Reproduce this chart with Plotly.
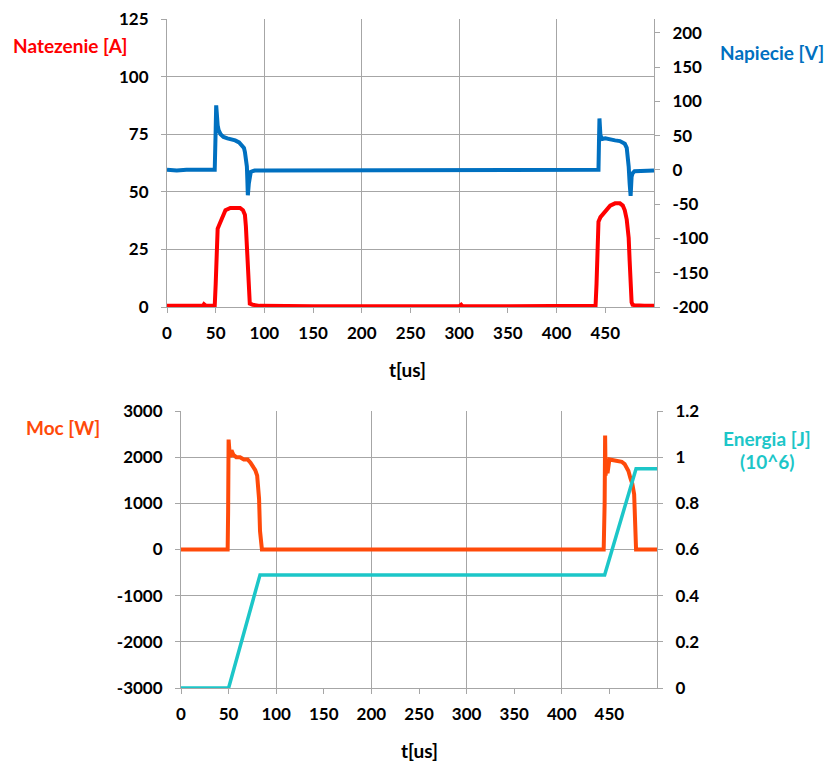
import plotly.graph_objects as go

# ---------------- data ----------------
t_current = [0, 20, 37, 38, 40, 46, 48, 49, 50, 51, 52, 54, 56, 58, 60, 65, 70, 75, 78, 80, 81, 82, 83, 84, 85, 88, 95,
             150, 200, 250, 300, 302, 303, 305, 350, 400, 440, 441, 442, 443, 445, 447, 450, 455, 460, 465, 468,
             470, 472, 474, 475, 476, 477, 478, 480, 490, 500]
current = [0.5, 0.5, 0.5, 1.2, 0.5, 0.5, 0.5, 0.6, 10, 28, 34, 36, 38, 40, 42, 43, 43, 43, 42, 40, 35, 25, 12, 3, 1.5, 1, 0.5,
           0.3, 0.3, 0.3, 0.3, 1, 0.5, 0.3, 0.3, 0.3, 0.5, 10, 30, 37, 39, 40, 42, 44, 45, 45, 44,
           42, 38, 30, 20, 8, 2, 1, 0.8, 0.5, 0.5]

t_voltage = [0, 10, 20, 30, 40, 49, 50, 50.5, 51, 52, 53, 55, 58, 62, 66, 70, 74, 77, 79, 80, 81, 82, 82.5, 83, 84, 85,
             86, 88, 90, 100, 150, 200, 250, 300, 350, 370, 400, 440, 443, 443.5, 444, 445, 447, 450, 455, 460, 465,
             470, 472, 473, 474, 475, 476, 477, 478, 480, 490, 500]
voltage = [0, -1, 0, 0, 0, 0, 60, 94, 85, 65, 58, 52, 48, 46, 45, 43, 40, 36, 32, 26, 18, 5, -15, -37, -20, -5,
           -3, -2, -1, -1, -1, 0, 0, 0, -1, -1, -1, -1, 0, 40, 75, 50, 45, 46, 44, 43, 42,
           38, 32, 20, 5, -20, -38, -10, -5, -2, -1, -1]

t_power = [0, 48, 49, 49.5, 50, 51, 52, 53, 55, 58, 62, 66, 70, 73, 76, 78, 80, 81, 82, 83, 84, 85, 100, 200, 300, 400,
           444, 445, 445.5, 446, 447, 448, 450, 455, 460, 463, 466, 468, 470, 472, 474, 476, 477, 478, 480, 500]
power = [0, 0, 0, 800, 2380, 2100, 2000, 2150, 2050, 2000, 2000, 1950, 1950, 1880, 1800, 1720, 1600, 1350, 1100, 400, 0, 0,
         0, 0, 0, 0, 0, 1000, 2470, 1600, 1900, 1650, 1950, 1930, 1900, 1900, 1850, 1780, 1700, 1550, 1430, 1200,
         500, 0, 0, 0]

t_energy = [0, 50, 83, 445, 478, 500]
energy = [0, 0, 0.49, 0.49, 0.95, 0.95]

x_ticks = [0, 50, 100, 150, 200, 250, 300, 350, 400, 450]
x_grid = [100, 200, 300, 400, 500]
i_ticks = [0, 25, 50, 75, 100, 125]
v_ticks = [-200, -150, -100, -50, 0, 50, 100, 150, 200]
v_labels = ["-200", "-150", "-100", "-50", "0", "50", "100", "150", "200"]
p_ticks = [-3000, -2000, -1000, 0, 1000, 2000, 3000]
p_labels = ["-3000", "-2000", "-1000", "0", "1000", "2000", "3000"]
e_ticks = [0, 0.2, 0.4, 0.6, 0.8, 1.0, 1.2]
e_labels = ["0", "0.2", "0.4", "0.6", "0.8", "1", "1.2"]

# ---------------- style ----------------
FONT = "Lato"
GRID = "#a6a6a6"
tickfont = dict(family=FONT, size=17, color="#000000", weight="bold")
W, H = 825, 763

def px_x(p):
    return p / W

def px_y(p):
    return 1 - p / H

fig = go.Figure()
fig.add_trace(go.Scatter(x=t_current, y=current, mode="lines", line=dict(color="#ff0000", width=4),
                         xaxis="x", yaxis="y", showlegend=False))
fig.add_trace(go.Scatter(x=t_voltage, y=voltage, mode="lines", line=dict(color="#0070c0", width=4),
                         xaxis="x", yaxis="y2", showlegend=False))
fig.add_trace(go.Scatter(x=t_power, y=power, mode="lines", line=dict(color="#ff4a0a", width=4),
                         xaxis="x2", yaxis="y3", showlegend=False))
fig.add_trace(go.Scatter(x=t_energy, y=energy, mode="lines", line=dict(color="#1cc6c8", width=3.5),
                         xaxis="x2", yaxis="y4", showlegend=False))

xcommon = dict(range=[0, 500], tickvals=x_ticks, showgrid=False, showline=True, linecolor=GRID, linewidth=1,
               ticks="outside", ticklen=5, tickcolor=GRID, tickfont=tickfont, zeroline=False, automargin=False,
               ticklabelstandoff=6,
               minor=dict(tickvals=x_grid, showgrid=True, gridcolor=GRID, gridwidth=1, ticklen=0))
ycommon = dict(showline=True, linecolor=GRID, linewidth=1, ticks="outside", ticklen=5, tickcolor=GRID,
               tickfont=tickfont, zeroline=False, automargin=False, ticklabelstandoff=9)

fig.update_layout(
    width=W, height=H, margin=dict(l=0, r=0, t=0, b=0, autoexpand=False),
    paper_bgcolor="white", plot_bgcolor="white",
    xaxis=dict(domain=[px_x(167), px_x(654)], anchor="y", **xcommon),
    yaxis=dict(domain=[px_y(307), px_y(19)], anchor="x", range=[0, 125], tickvals=i_ticks,
               showgrid=True, gridcolor=GRID, **ycommon),
    yaxis2=dict(overlaying="y", side="right", anchor="x", range=[-200, 220],
                tickvals=v_ticks, ticktext=v_labels, showgrid=False, **ycommon),
    xaxis2=dict(domain=[px_x(181), px_x(657)], anchor="y3", **xcommon),
    yaxis3=dict(domain=[px_y(688), px_y(411)], anchor="x2", range=[-3000, 3000], tickvals=p_ticks,
                ticktext=p_labels, showgrid=True, gridcolor=GRID, **ycommon),
    yaxis4=dict(overlaying="y3", side="right", anchor="x2", range=[0, 1.2],
                tickvals=e_ticks, ticktext=e_labels, showgrid=False, **ycommon),
)

def label(text, x, y, color, size=19):
    fig.add_annotation(text=text, x=px_x(x), y=px_y(y), xref="paper", yref="paper", showarrow=False,
                       font=dict(family=FONT, size=size, color=color, weight="bold"),
                       xanchor="center", yanchor="middle")

label("Natezenie [A]", 70, 46, "#ff0000")
label("Napiecie [V]", 772, 52, "#0070c0")
label("t[us]", 407, 370, "#000000")
label("Moc [W]", 63, 427, "#ff4a0a")
label("Energia [J]", 767, 438, "#1cc6c8")
label("(10^6)", 767, 461, "#1cc6c8")
label("t[us]", 419, 750, "#000000")

fig.write_html("out.html")
